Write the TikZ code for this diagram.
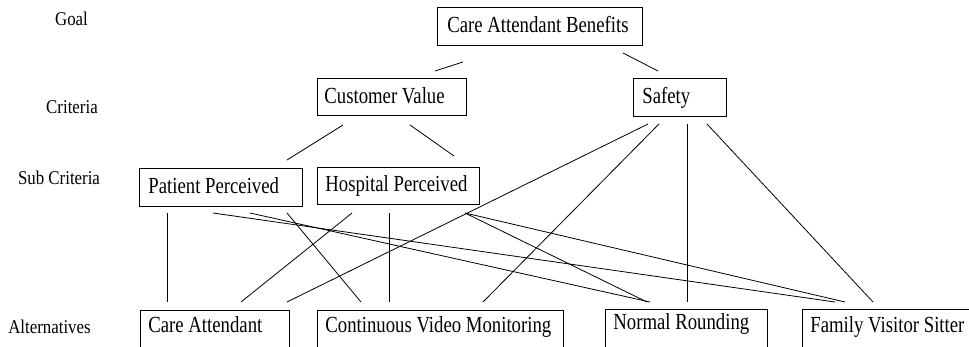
\documentclass[tikz,border=0pt]{standalone}
\usepackage{fontspec}
\setmainfont{Liberation Serif}
\newfontfamily\boxfont[FakeStretch=0.815]{Liberation Serif}
\newfontfamily\levelfont[FakeStretch=0.865]{Liberation Serif}
\tikzset{
  box/.style={draw, line width=0.8pt, anchor=north west, inner xsep=#1, inner ysep=0pt,
    font=\boxfont\fontsize{23}{26}\selectfont},
  level/.style={anchor=base, inner sep=0pt, font=\levelfont\fontsize{19.5}{22}\selectfont},
  link/.style={line width=0.8pt}
}
\begin{document}
\begin{tikzpicture}[x=1pt,y=-1pt]
\useasboundingbox (0,0) rectangle (969,347);
\clip (0,0) rectangle (969,347);
% level labels
\node[level] (lgoal) at (71.5,26) {Goal};
\node[level] (lcrit) at (72,114) {Criteria};
\node[level] (lsub) at (59,185) {Sub Criteria};
\node[level] (lalt) at (49.5,334) {Alternatives};
% boxes
\node[box=10pt, text height=25.5pt, text depth=12.5pt] (cab) at (437,7) {\makebox[185pt][l]{Care Attendant Benefits}};
\node[box=7pt, text height=25.5pt, text depth=11.5pt] (cv) at (317,78) {\makebox[135pt][l]{Customer Value}};
\node[box=9pt, text height=25pt, text depth=13pt] (saf) at (633,78) {\makebox[75pt][l]{Safety}};
\node[box=9pt, text height=24.7pt, text depth=13.3pt] (pp) at (139,168) {\makebox[145pt][l]{Patient Perceived}};
\node[box=8pt, text height=23.7pt, text depth=13.3pt] (hp) at (317,167) {\makebox[146pt][l]{Hospital Perceived}};
\node[box=8pt, text height=22pt, text depth=18pt] (ca) at (140,310) {\makebox[133pt][l]{Care Attendant}};
\node[box=8pt, text height=22pt, text depth=18pt] (cvm) at (317,310) {\makebox[230pt][l]{Continuous Video Monitoring}};
\node[box=8pt, text height=20pt, text depth=21pt] (nr) at (605,309) {\makebox[146pt][l]{Normal Rounding}};
\node[box=8pt, text height=23pt, text depth=18pt] (fvs) at (802,309) {\makebox[172pt][l]{Family Visitor Sitter}};
% connector end points (connectors leave a gap to the boxes)
\coordinate (cab-cv) at (463,62);   \coordinate (cv-cab) at (435,71);
\coordinate (cab-saf) at (623,53);  \coordinate (saf-cab) at (658,71);
\coordinate (cv-pp) at (343,125);   \coordinate (pp-cv) at (287,160);
\coordinate (cv-hp) at (410,125);   \coordinate (hp-cv) at (454,156);
\coordinate (saf-ca) at (648,124);  \coordinate (ca-saf) at (287,302);
\coordinate (saf-cvm) at (659,124); \coordinate (cvm-saf) at (483,302);
\coordinate (saf-nr) at (687,124);  \coordinate (nr-saf) at (687,302);
\coordinate (saf-fvs) at (707,124); \coordinate (fvs-saf) at (873,302);
\coordinate (pp-ca) at (167,213);   \coordinate (ca-pp) at (167,302);
\coordinate (pp-fvs) at (213,213);  \coordinate (fvs-pp) at (835,302);
\coordinate (pp-nr) at (250,213);   \coordinate (nr-pp) at (650,302);
\coordinate (pp-cvm) at (287,213);  \coordinate (cvm-pp) at (361,302);
\coordinate (hp-ca) at (352,213);   \coordinate (ca-hp) at (241,302);
\coordinate (hp-cvm) at (389,213);  \coordinate (cvm-hp) at (389,302);
\coordinate (hp-nr) at (465,213);   \coordinate (nr-hp) at (647,302);
\coordinate (hp-fvs) at (465,213);  \coordinate (fvs-hp) at (845,302);
% connectors
\draw[link] (cab-cv) -- (cv-cab);
\draw[link] (cab-saf) -- (saf-cab);
\draw[link] (cv-pp) -- (pp-cv);
\draw[link] (cv-hp) -- (hp-cv);
\draw[link] (saf-ca) -- (ca-saf);
\draw[link] (saf-cvm) -- (cvm-saf);
\draw[link] (saf-nr) -- (nr-saf);
\draw[link] (saf-fvs) -- (fvs-saf);
\draw[link] (pp-ca) -- (ca-pp);
\draw[link] (pp-fvs) -- (fvs-pp);
\draw[link] (pp-nr) -- (nr-pp);
\draw[link] (pp-cvm) -- (cvm-pp);
\draw[link] (hp-ca) -- (ca-hp);
\draw[link] (hp-cvm) -- (cvm-hp);
\draw[link] (hp-nr) -- (nr-hp);
\draw[link] (hp-fvs) -- (fvs-hp);
\end{tikzpicture}
\end{document}
